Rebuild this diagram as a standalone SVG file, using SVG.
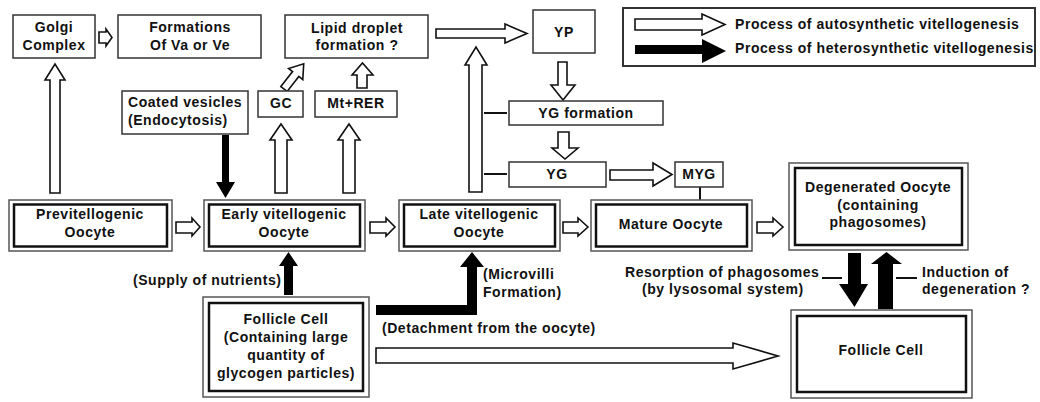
<svg xmlns="http://www.w3.org/2000/svg" width="1040" height="402" viewBox="0 0 1040 402">
<style>
text{font-family:"Liberation Sans",Arial,sans-serif;font-weight:bold;font-size:14px;fill:#111;letter-spacing:0.55px}
.c{text-anchor:middle}
.box{fill:#fff;stroke:#333;stroke-width:1.5}
.outer{fill:#fff;stroke:#555;stroke-width:1.5}
.inner{fill:none;stroke:#111;stroke-width:2.5}
.ha{fill:#fff;stroke:#111;stroke-width:1.6;stroke-linejoin:miter}
.ba{fill:#000;stroke:none}
.tick{stroke:#111;stroke-width:2}
</style>
<rect width="1040" height="402" fill="#fff"/>

<g id="legend">
<rect x="623" y="8" width="412" height="58" fill="#fff" stroke="#333" stroke-width="2"/>
<polygon class="ha" points="635,19 702,19 702,14 725,24.5 702,35 702,30 635,30"/>
<polygon class="ba" points="635,45 702,45 702,39 726,51 702,63 702,54 635,54"/>
<text x="735" y="29">Process of autosynthetic vitellogenesis</text>
<text x="735" y="53">Process of heterosynthetic vitellogenesis</text>
</g>

<g id="connectors">
<!-- Golgi -> Formations -->
<polygon class="ha" points="99,32 106,32 106,29 112,37.5 106,46 106,43 99,43"/>
<!-- Previtellogenic -> Golgi -->
<polygon class="ha" points="50,193 50,80 45,80 55,64 65,80 60,80 60,193"/>
<!-- Coated vesicles -> Early (black) -->
<polygon class="ba" points="222,135 229,135 229,182 235,182 225.5,198 216,182 222,182"/>
<!-- Early -> GC -->
<polygon class="ha" points="275,193 275,140 270,140 281,124 292,140 287,140 287,193"/>
<!-- Early -> Mt+RER -->
<polygon class="ha" points="343,193 343,140 338,140 349,124 360,140 355,140 355,193"/>
<!-- GC -> Lipid (diagonal) -->
<polygon class="ha" transform="translate(284,89) rotate(38)" points="-4,0 -4,-19 -9,-19 0,-32 9,-19 4,-19 4,0"/>
<!-- Mt+RER -> Lipid -->
<polygon class="ha" points="357,88 357,75 352,75 362.5,63 373,75 367,75 367,88"/>
<!-- Lipid -> YP -->
<polygon class="ha" points="436,29 505,29 505,24 527,33.5 505,43 505,38 436,38"/>
<!-- Late -> YP (vertical) -->
<polygon class="ha" points="469,192 469,65 465,65 476,47 487,65 482,65 482,192"/>
<line class="tick" x1="484" y1="113" x2="507" y2="113"/>
<line class="tick" x1="484" y1="174" x2="507" y2="174"/>
<!-- YP -> YG formation -->
<polygon class="ha" points="558,62 567,62 567,85 575,85 563,100 551,85 558,85"/>
<!-- YG formation -> YG -->
<polygon class="ha" points="558,132 569,132 569,148 578,148 565,159 552,148 558,148"/>
<!-- YG -> MYG -->
<polygon class="ha" points="610,170 653,170 653,163 672,174.5 653,186 653,180 610,180"/>
<line class="tick" x1="700" y1="187" x2="700" y2="200"/>
<!-- Main row arrows -->
<polygon class="ha" points="176,222 192,222 192,218 200,227 192,236 192,233 176,233"/>
<polygon class="ha" points="370,222 386,222 386,218 395,227 386,236 386,233 370,233"/>
<polygon class="ha" points="563,222 578,222 578,218 588,227 578,236 578,233 563,233"/>
<polygon class="ha" points="757,222 773,222 773,218 783,227 773,236 773,233 757,233"/>
<!-- Follicle -> Early (black) -->
<polygon class="ba" points="284,295 284,266 279,266 288.5,252 298,266 293,266 293,295"/>
<!-- Follicle -> Late (black L) -->
<polygon class="ba" points="376,305 467,305 467,267 460,267 472,252 484,267 477,267 477,315 376,315"/>
<!-- Follicle -> Follicle Cell (hollow) -->
<polygon class="ha" points="376,348 733,348 733,343 778,356 733,369 733,363 376,363"/>
<!-- Degenerated <-> Follicle Cell -->
<polygon class="ba" points="848,253 861,253 861,284 868,284 854.5,307 839,284 848,284"/>
<polygon class="ba" points="878,309 878,264 871,264 886.5,252 902,264 893,264 893,309"/>
<line class="tick" x1="822" y1="278" x2="842" y2="278"/>
<line class="tick" x1="896" y1="278" x2="917" y2="278"/>
</g>

<g id="labels">
<text x="133" y="285">(Supply of nutrients)</text>
<text x="483" y="279">(Microvilli</text>
<text x="483" y="297">Formation)</text>
<text x="382" y="333">(Detachment from the oocyte)</text>
<text x="625" y="277">Resorption of phagosomes</text>
<text x="642" y="294">(by lysosomal system)</text>
<text x="922" y="277">Induction of</text>
<text x="922" y="294">degeneration ?</text>
</g>

<g id="golgi">
<rect class="box" x="13" y="15" width="82" height="43"/>
<text class="c" x="54" y="32">Golgi</text>
<text class="c" x="54" y="50">Complex</text>
</g>
<g id="formations">
<rect class="box" x="118" y="15" width="143" height="43"/>
<text class="c" x="190" y="32">Formations</text>
<text class="c" x="190" y="50">Of Va or Ve</text>
</g>
<g id="lipid">
<rect class="box" x="285" y="15" width="143" height="43"/>
<text class="c" x="357" y="33">Lipid droplet</text>
<text class="c" x="357" y="50">formation ?</text>
</g>
<g id="yp">
<rect class="box" x="533" y="10" width="62" height="43"/>
<text class="c" x="564" y="37">YP</text>
</g>
<g id="coated">
<rect class="box" x="122" y="91" width="126" height="43"/>
<text x="128" y="107">Coated vesicles</text>
<text x="128" y="125">(Endocytosis)</text>
</g>
<g id="gc">
<rect class="box" x="258" y="91" width="45" height="26"/>
<text class="c" x="281" y="108">GC</text>
</g>
<g id="mtrer">
<rect class="box" x="315" y="91" width="82" height="26"/>
<text class="c" x="356" y="108">Mt+RER</text>
</g>
<g id="ygformation">
<rect class="box" x="509" y="101" width="154" height="24"/>
<text class="c" x="586" y="118">YG formation</text>
</g>
<g id="yg">
<rect class="box" x="509" y="162" width="97" height="25"/>
<text class="c" x="557" y="179">YG</text>
</g>
<g id="myg">
<rect class="box" x="675" y="162" width="48" height="25"/>
<text class="c" x="699" y="179">MYG</text>
</g>

<g id="previtellogenic">
<rect class="outer" x="9" y="200" width="163" height="51"/>
<rect class="inner" x="14" y="204.5" width="153" height="42"/>
<text class="c" x="90" y="219">Previtellogenic</text>
<text class="c" x="90" y="237">Oocyte</text>
</g>
<g id="early">
<rect class="outer" x="204" y="200" width="161" height="51"/>
<rect class="inner" x="209" y="204.5" width="151" height="42"/>
<text class="c" x="284" y="219">Early vitellogenic</text>
<text class="c" x="284" y="237">Oocyte</text>
</g>
<g id="late">
<rect class="outer" x="399" y="200" width="161" height="51"/>
<rect class="inner" x="404" y="204.5" width="151" height="42"/>
<text class="c" x="479" y="219">Late vitellogenic</text>
<text class="c" x="479" y="237">Oocyte</text>
</g>
<g id="mature">
<rect class="outer" x="591" y="200" width="161" height="51"/>
<rect class="inner" x="596" y="204.5" width="151" height="42"/>
<text class="c" x="671" y="229">Mature Oocyte</text>
</g>
<g id="degenerated">
<rect class="outer" x="789" y="163" width="179" height="87"/>
<rect class="inner" x="795" y="168" width="167" height="77"/>
<text class="c" x="878" y="192">Degenerated Oocyte</text>
<text class="c" x="878" y="210">(containing</text>
<text class="c" x="878" y="227">phagosomes)</text>
</g>
<g id="follicle-left">
<rect class="outer" x="203" y="297" width="166" height="100"/>
<rect class="inner" x="209" y="303" width="154" height="88"/>
<text class="c" x="286" y="324">Follicle Cell</text>
<text class="c" x="286" y="342">(Containing large</text>
<text class="c" x="286" y="360">quantity of</text>
<text class="c" x="286" y="378">glycogen particles)</text>
</g>
<g id="follicle-right">
<rect class="outer" x="791" y="310" width="181" height="88"/>
<rect class="inner" x="797" y="316" width="169" height="76"/>
<text class="c" x="881" y="355">Follicle Cell</text>
</g>
</svg>
